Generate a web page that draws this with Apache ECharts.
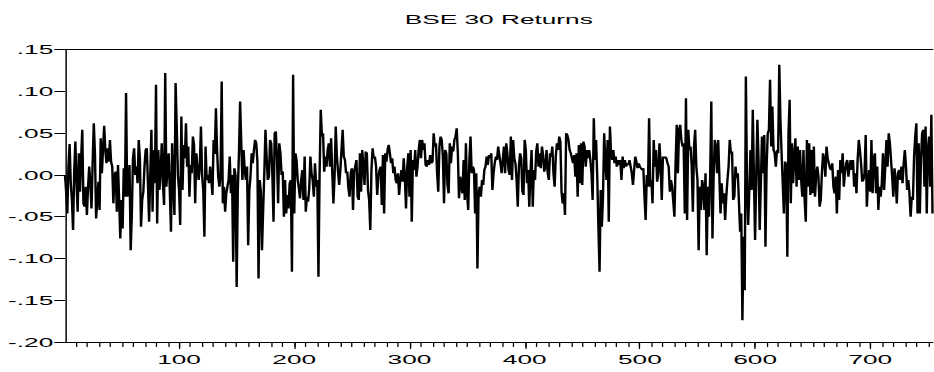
<!DOCTYPE html>
<html><head><meta charset="utf-8">
<script src="https://cdn.jsdelivr.net/npm/echarts@6/dist/echarts.min.js"></script>
<style>
html,body{margin:0;padding:0;background:#fff;overflow:hidden;}
#wrap{width:934px;height:372px;overflow:hidden;position:relative;background:#fff;}
#chart{position:absolute;left:0;top:0;transform-origin:0 0;}
</style></head><body>
<div id="wrap"><div id="chart"></div></div>
<script>
const chartTitle = 'BSE 30 Returns';
const yTickValues = [-0.20,-0.15,-0.10,-0.05,0.00,0.05,0.10,0.15];
const yTickLabels = ['-.20','-.15','-.10','-.05','.00','.05','.10','.15'];
const xLabelValues = [100,200,300,400,500,600,700];

const returns001to060 = [0.000,-0.020,-0.046,0.010,0.037,-0.010,-0.030,-0.066,0.005,0.040,
-0.010,-0.044,0.026,-0.020,0.020,0.054,-0.034,-0.038,-0.014,-0.048,
-0.015,0.010,-0.010,-0.040,0.015,0.062,0.026,-0.052,-0.030,-0.008,
-0.042,0.044,0.002,0.030,0.059,0.030,0.014,0.032,0.016,0.042,
0.016,0.010,-0.034,0.000,0.004,-0.044,0.012,-0.030,-0.076,-0.030,
-0.064,0.008,-0.026,0.098,-0.026,-0.020,0.012,-0.090,-0.048,0.020];
const returns061to125 = [0.032,0.000,0.010,-0.010,0.042,0.020,-0.062,-0.030,-0.020,0.010,
0.030,0.032,-0.010,-0.056,0.000,0.054,-0.044,0.030,-0.010,0.108,
-0.058,0.030,-0.018,0.005,0.038,-0.010,-0.036,0.122,-0.014,0.008,
0.026,-0.020,-0.068,0.038,-0.010,-0.048,0.110,0.058,0.000,-0.018,
-0.060,0.070,-0.018,0.036,0.020,0.062,0.010,0.034,-0.026,0.012,
0.002,0.046,0.036,-0.034,0.026,0.010,-0.006,0.010,0.058,0.000,
-0.018,-0.074,0.034,-0.006,0.000];
const returns126to188 = [-0.010,0.010,-0.005,-0.024,0.042,0.025,0.080,0.030,-0.002,-0.014,
-0.002,0.112,-0.034,-0.014,-0.044,-0.022,-0.014,-0.006,0.022,-0.022,
0.000,-0.104,0.008,0.000,-0.134,-0.018,0.026,0.088,0.038,-0.006,
0.030,0.006,-0.006,0.010,-0.084,-0.018,-0.002,0.026,0.014,0.030,
0.042,0.038,0.016,-0.124,-0.006,-0.020,-0.090,-0.042,0.002,0.054,
0.022,-0.006,-0.002,0.042,0.038,0.000,-0.056,0.050,0.052,0.020,
-0.034,0.038,0.026];
const returns189to252 = [0.000,0.004,-0.050,-0.006,-0.046,-0.024,-0.040,-0.010,-0.006,-0.116,
0.120,-0.046,0.026,0.018,-0.006,-0.016,-0.028,-0.006,0.006,-0.030,
0.022,-0.044,-0.026,-0.032,-0.016,0.022,0.002,-0.006,-0.026,0.014,
-0.014,-0.006,-0.122,0.002,0.078,0.046,0.050,0.004,0.022,0.010,
0.030,0.038,0.010,0.044,0.002,-0.034,-0.002,0.058,0.022,0.004,
-0.012,0.006,0.030,0.054,0.022,0.018,0.002,0.004,-0.016,-0.026,
0.002,0.008,-0.042,0.004];
const returns253to315 = [0.004,0.018,-0.026,-0.030,0.026,-0.020,0.030,0.010,-0.012,0.028,
0.026,-0.018,-0.030,-0.066,0.006,0.032,0.020,0.022,0.010,-0.024,
-0.002,0.006,0.010,-0.036,0.024,-0.046,0.026,0.016,0.030,0.036,
0.026,0.014,0.020,0.002,0.010,-0.006,-0.010,0.002,-0.024,-0.006,
0.006,-0.008,0.020,-0.002,-0.040,0.008,0.026,-0.026,0.030,-0.056,
0.018,0.006,0.030,-0.002,0.010,0.030,0.042,0.020,0.042,0.030,
0.038,0.012,0.010];
const returns316to378 = [0.018,0.012,0.024,0.014,0.016,0.050,0.034,0.038,0.002,-0.020,
0.034,0.046,0.042,0.022,-0.034,0.030,0.026,-0.012,-0.022,0.038,
0.014,0.034,0.028,0.042,0.046,0.056,0.026,-0.028,-0.002,-0.014,
-0.022,0.018,-0.030,0.038,-0.022,-0.042,0.018,0.046,0.002,0.010,
0.006,-0.046,0.002,-0.112,-0.022,-0.014,-0.026,-0.006,-0.012,0.006,
0.010,0.022,0.012,0.024,0.020,0.026,-0.018,0.002,0.014,0.022,
0.018,0.034,0.034];
const returns379to442 = [0.014,0.002,0.018,0.034,0.002,0.038,0.026,0.006,0.000,0.046,
-0.006,0.042,0.020,0.014,-0.006,-0.038,0.010,0.026,0.020,-0.020,
-0.024,0.042,0.030,-0.010,0.006,-0.038,0.002,0.030,-0.038,0.006,
-0.006,0.028,0.038,0.010,0.026,0.008,0.034,0.024,0.004,0.010,
0.030,0.002,-0.006,0.026,0.022,0.034,0.002,-0.014,0.022,0.038,
0.030,0.046,0.040,-0.020,-0.034,-0.022,-0.048,0.050,0.048,0.042,
0.030,0.026,0.020,0.014];
const returns443to505 = [0.024,-0.002,0.026,-0.026,0.036,-0.010,0.038,-0.012,0.040,0.034,
0.010,0.030,0.020,0.030,0.018,0.002,-0.030,0.068,0.018,0.042,
-0.002,-0.062,-0.116,-0.018,-0.062,-0.026,0.050,0.018,-0.006,0.042,
-0.056,0.058,0.026,0.018,0.030,0.014,0.022,0.010,0.018,0.012,
0.018,-0.006,0.022,0.008,0.018,0.010,0.014,0.012,0.018,0.010,
0.002,-0.012,0.006,0.022,0.016,0.008,0.014,0.010,0.010,0.006,
0.008,-0.026,-0.054];
const returns506to568 = [0.000,-0.014,0.068,-0.014,-0.006,-0.034,0.042,0.010,0.030,-0.008,
0.002,0.038,0.012,-0.030,0.022,0.020,0.022,0.020,0.014,0.010,
-0.020,-0.006,-0.014,-0.014,-0.050,0.014,0.060,0.002,0.054,0.060,
0.042,0.034,0.038,-0.046,0.092,-0.054,0.054,0.030,0.034,0.010,
-0.044,0.034,0.054,0.010,-0.006,-0.090,-0.014,-0.042,-0.006,-0.014,
-0.042,0.002,-0.096,-0.014,-0.050,-0.002,0.088,-0.076,-0.002,0.042,
0.034,0.002,0.042];
const returns569to632 = [0.042,-0.046,-0.010,-0.034,-0.022,-0.054,-0.026,-0.006,0.010,0.042,
0.026,0.028,-0.030,-0.026,0.010,-0.004,0.002,0.002,-0.068,-0.046,
-0.174,-0.074,-0.138,0.118,-0.014,-0.060,-0.018,0.030,-0.018,0.078,
-0.002,-0.078,-0.002,0.066,0.018,-0.066,-0.010,0.046,0.002,0.048,
-0.086,0.010,0.050,0.054,0.114,0.034,0.082,0.030,0.026,0.010,
0.030,0.026,0.132,0.066,0.026,-0.010,-0.046,0.016,0.012,-0.098,
0.050,0.090,-0.034,0.038];
const returns633to695 = [-0.010,0.022,0.044,-0.014,0.034,-0.006,0.030,-0.006,-0.026,0.030,
-0.030,-0.056,0.042,-0.014,0.038,-0.024,0.030,-0.022,0.034,-0.026,
-0.002,0.010,-0.002,-0.038,-0.030,0.002,0.026,0.018,-0.002,0.034,
0.020,0.014,0.008,0.006,0.014,-0.014,-0.022,-0.002,-0.046,0.006,
-0.030,0.018,0.002,0.026,-0.014,0.002,0.014,0.018,-0.002,0.010,
0.018,0.006,0.018,-0.014,0.002,-0.022,0.018,0.042,0.030,0.014,
-0.008,-0.006,0.002];
const returns696to754 = [0.048,-0.038,-0.010,0.006,-0.020,0.042,-0.022,0.020,0.026,-0.022,
0.010,-0.042,-0.014,-0.026,-0.010,0.026,-0.018,0.010,0.042,0.010,
0.050,0.038,0.018,-0.002,-0.026,0.008,-0.006,-0.034,0.002,0.006,
-0.006,0.010,-0.010,0.014,0.030,0.010,-0.018,-0.006,-0.022,-0.050,
-0.026,-0.030,0.022,0.046,0.062,-0.046,0.038,-0.046,0.018,0.050,
0.054,-0.014,0.058,-0.046,0.030,0.046,-0.014,0.072,-0.046];

const returns = [].concat(returns001to060, returns061to125, returns126to188, returns189to252,
  returns253to315, returns316to378, returns379to442, returns443to505, returns506to568,
  returns569to632, returns633to695, returns696to754);
const observations = returns.map((_, i) => String(i + 1));

// The reference image is horizontally stretched; reproduce by drawing narrower and stretching.
const SX = 2.1;
const W = 934, H = 372;
const el = document.getElementById('chart');
el.style.width = (W / SX) + 'px';
el.style.height = H + 'px';
el.style.transform = 'scaleX(' + SX + ')';

const FONT = '"Liberation Sans", Arial, sans-serif';
const plotLeft = 65, plotRight = 932.5, plotTop = 49.7, plotBottom = 342;

function yLabel(v) {
  for (let k = 0; k < yTickValues.length; k++) {
    if (Math.abs(yTickValues[k] - v) < 1e-6) return yTickLabels[k];
  }
  return '';
}

const chart = echarts.init(el, null, { renderer: 'svg', width: W / SX, height: H });
chart.setOption({
  animation: false,
  backgroundColor: '#ffffff',
  title: {
    text: chartTitle,
    left: ((plotLeft + plotRight) / 2) / SX,
    top: 13,
    textAlign: 'center',
    padding: 0,
    textStyle: { fontFamily: FONT, fontSize: 12.5, fontWeight: 'normal', color: '#000' }
  },
  grid: {
    left: plotLeft / SX,
    right: (W - plotRight) / SX,
    top: plotTop,
    bottom: H - plotBottom,
    containLabel: false
  },
  xAxis: [{
    type: 'category',
    data: observations,
    boundaryGap: false,
    axisLine: { show: true, onZero: false, lineStyle: { color: '#000', width: 1 } },
    axisTick: { show: true, interval: (idx, val) => Number(val) % 10 === 0, length: 5, lineStyle: { color: '#000', width: 0.6 } },
    axisLabel: {
      interval: (idx, val) => xLabelValues.indexOf(Number(val)) >= 0,
      margin: 11, fontFamily: FONT, fontSize: 12.5, color: '#000'
    },
    splitLine: { show: false }
  }, {
    type: 'category',
    position: 'top',
    data: observations,
    boundaryGap: false,
    axisLine: { show: true, onZero: false, lineStyle: { color: '#000', width: 1 } },
    axisTick: { show: false },
    axisLabel: { show: false },
    splitLine: { show: false }
  }, {
    type: 'category',
    position: 'bottom',
    data: observations,
    boundaryGap: false,
    axisLine: { show: false, onZero: false },
    axisTick: { show: true, interval: (idx, val) => xLabelValues.indexOf(Number(val)) >= 0, length: 7, lineStyle: { color: '#000', width: 0.6 } },
    axisLabel: { show: false },
    splitLine: { show: false }
  }],
  yAxis: [{
    type: 'value',
    min: -0.20, max: 0.15, interval: 0.05,
    axisLine: { show: true, onZero: false, lineStyle: { color: '#000', width: 0.7 } },
    axisTick: { show: true, length: 10.7 / SX, lineStyle: { color: '#000', width: 1 } },
    axisLabel: { formatter: yLabel, margin: 11.7 / SX, fontFamily: FONT, fontSize: 12.5, color: '#000' },
    splitLine: { show: false }
  }],
  series: [{
    type: 'line',
    data: returns,
    xAxisIndex: 0,
    yAxisIndex: 0,
    symbol: 'none',
    showSymbol: false,
    lineStyle: { color: '#000', width: 1.15 }
  }]
});
</script></body></html>
